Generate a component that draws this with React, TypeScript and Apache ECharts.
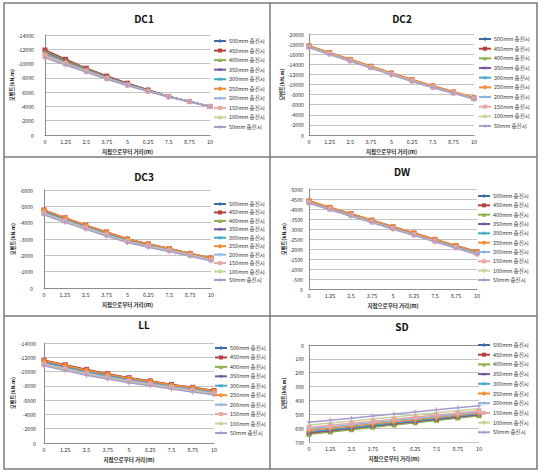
import React, { useEffect, useRef } from "react";
import * as echarts from "echarts";

const X_LABELS = ["0", "1.25", "2.5", "3.75", "5", "6.25", "7.5", "8.75", "10"];
const NAMES = [
  "500mm 충진시", "450mm 충진시", "400mm 충진시", "350mm 충진시", "300mm 충진시",
  "250mm 충진시", "200mm 충진시", "150mm 충진시", "100mm 충진시", "50mm 충진시",
];
const COLORS = [
  "#3A6CA8", "#B8403C", "#8DB04E", "#7459A0", "#45A8C6",
  "#F28E38", "#8DB3E2", "#E6A9A7", "#C3D69B", "#A89BCB",
];
const PLUS = "path://M4,0H6V4H10V6H6V10H4V6H0V4H4Z";
const STAR = "path://M4.4,0H5.6V10H4.4Z M0,1.6L0.9,0.6L10,8.4L9.1,9.4Z M9.1,0.6L10,1.6L0.9,9.4L0,8.4Z";
const DASH = "path://M0,4H10V6H0Z";
const SYMBOLS = ["diamond", "rect", "triangle", PLUS, STAR, "circle", PLUS, DASH, "none", PLUS];
const SYMBOL_ROT = [0, 0, 0, 45, 0, 0, 0, 0, 0, 0];

const TITLES = ["DC1", "DC2", "DC3", "DW", "LL", "SD"];
const Y_NAME = "모멘트(kN.m)";
const X_NAME = "지점으로부터 거리(m)";

const DC1 = [
  [-11800, -10500, -9300, -8200, -7200, -6300, -5400, -4700, -4000],
  [-11900, -10600, -9350, -8250, -7250, -6300, -5400, -4700, -4000],
  [-11700, -10450, -9250, -8150, -7150, -6250, -5400, -4700, -4000],
  [-11550, -10350, -9150, -8100, -7100, -6200, -5380, -4690, -4000],
  [-11450, -10250, -9100, -8050, -7100, -6200, -5380, -4690, -4000],
  [-11300, -10150, -9050, -8000, -7050, -6180, -5370, -4680, -4000],
  [-11200, -10050, -9000, -7950, -7000, -6150, -5350, -4680, -4000],
  [-11050, -9950, -8900, -7900, -6980, -6130, -5350, -4670, -4000],
  [-10900, -9850, -8850, -7850, -6950, -6120, -5340, -4670, -4000],
  [-10800, -9800, -8800, -7800, -6920, -6100, -5330, -4660, -4000],
];
const DC2 = [
  [-17600, -16250, -14900, -13550, -12200, -10900, -9650, -8450, -7300],
  [-17650, -16300, -14950, -13600, -12250, -10950, -9700, -8500, -7350],
  [-17550, -16200, -14850, -13500, -12150, -10850, -9600, -8420, -7280],
  [-17500, -16150, -14800, -13450, -12100, -10800, -9550, -8380, -7250],
  [-17550, -16200, -14850, -13500, -12150, -10850, -9620, -8450, -7300],
  [-17700, -16350, -15000, -13650, -12300, -11000, -9750, -8600, -7450],
  [-17450, -16100, -14750, -13400, -12050, -10750, -9500, -8350, -7200],
  [-17400, -16050, -14700, -13350, -12000, -10700, -9450, -8300, -7150],
  [-17350, -16000, -14650, -13300, -11950, -10650, -9420, -8270, -7120],
  [-17300, -15950, -14600, -13250, -11900, -10600, -9400, -8250, -7100],
];
const DC3 = [
  [-4750, -4280, -3830, -3410, -2990, -2690, -2410, -2110, -1830],
  [-4780, -4300, -3850, -3430, -3000, -2700, -2420, -2120, -1840],
  [-4720, -4250, -3800, -3380, -2960, -2660, -2380, -2090, -1810],
  [-4680, -4210, -3770, -3350, -2930, -2640, -2360, -2070, -1790],
  [-4640, -4180, -3740, -3320, -2900, -2610, -2340, -2050, -1770],
  [-4770, -4300, -3850, -3430, -3000, -2700, -2420, -2120, -1840],
  [-4600, -4140, -3700, -3280, -2870, -2580, -2310, -2020, -1740],
  [-4560, -4100, -3670, -3250, -2840, -2560, -2290, -2000, -1720],
  [-4520, -4060, -3630, -3220, -2810, -2530, -2260, -1980, -1690],
  [-4480, -4020, -3590, -3180, -2780, -2500, -2230, -1950, -1660],
];
const DW = [
  [-4390, -4070, -3750, -3430, -3100, -2790, -2470, -2160, -1850],
  [-4400, -4080, -3760, -3440, -3110, -2800, -2480, -2170, -1860],
  [-4370, -4050, -3730, -3410, -3080, -2770, -2450, -2140, -1830],
  [-4350, -4030, -3710, -3390, -3060, -2750, -2430, -2120, -1810],
  [-4340, -4020, -3700, -3380, -3050, -2740, -2420, -2110, -1800],
  [-4410, -4090, -3770, -3450, -3120, -2810, -2490, -2180, -1870],
  [-4320, -4000, -3680, -3360, -3030, -2720, -2400, -2080, -1770],
  [-4310, -3990, -3670, -3350, -3020, -2710, -2390, -2070, -1760],
  [-4290, -3970, -3650, -3330, -3000, -2690, -2370, -2050, -1740],
  [-4280, -3960, -3640, -3320, -2990, -2680, -2360, -2040, -1720],
];
const LL = [
  [-11550, -10900, -10250, -9650, -9100, -8650, -8150, -7750, -7300],
  [-11600, -10950, -10300, -9700, -9150, -8700, -8200, -7800, -7350],
  [-11450, -10800, -10150, -9560, -9020, -8570, -8080, -7680, -7230],
  [-11350, -10700, -10050, -9470, -8940, -8490, -8010, -7610, -7160],
  [-11250, -10600, -9950, -9380, -8860, -8410, -7940, -7540, -7090],
  [-11500, -10850, -10200, -9620, -9080, -8630, -8130, -7730, -7280],
  [-11100, -10450, -9800, -9250, -8740, -8290, -7830, -7430, -6990],
  [-11000, -10350, -9700, -9150, -8650, -8200, -7740, -7340, -6900],
  [-10900, -10250, -9600, -9050, -8550, -8100, -7650, -7250, -6820],
  [-10800, -10150, -9500, -8950, -8450, -8000, -7550, -7150, -6750],
];
const SD = [
  [640, 623, 607, 590, 573, 557, 540, 523, 505],
  [638, 621, 605, 588, 571, 555, 538, 521, 504],
  [645, 628, 611, 594, 578, 561, 544, 527, 510],
  [632, 615, 599, 583, 567, 551, 535, 519, 502],
  [625, 609, 593, 577, 561, 545, 529, 513, 497],
  [615, 600, 584, 569, 553, 538, 522, 507, 491],
  [605, 590, 575, 560, 544, 529, 514, 499, 483],
  [595, 580, 565, 550, 535, 520, 505, 490, 475],
  [578, 563, 548, 534, 519, 504, 489, 475, 460],
  [558, 543, 528, 513, 498, 483, 468, 453, 438],
];
const PANEL_DATA = [DC1, DC2, DC3, DW, LL, SD];
const Y_MIN = [-14000, -20000, -6000, -5000, -14000, 0];
const Y_MAX = [0, 0, 0, 0, 0, 700];
const Y_STEP = [2000, 2000, 1000, 500, 2000, 100];

// layout (pixels)
const LAYOUT = [
  { grid: { left: 45, top: 35, width: 165, height: 100 }, legend: { left: 213, top: 37, gap: 1.55 }, tx: 139, ty: 8, lm: 11, ng: 29 },
  { grid: { left: 309, top: 34, width: 165, height: 101 }, legend: { left: 478, top: 35, gap: 1.67 }, tx: 397, ty: 8, lm: 5, ng: 21 },
  { grid: { left: 44, top: 190, width: 167, height: 98 }, legend: { left: 213, top: 200, gap: 0.44 }, tx: 139, ty: 166, lm: 11, ng: 29 },
  { grid: { left: 309, top: 189, width: 168, height: 100 }, legend: { left: 477, top: 192, gap: 1.33 }, tx: 397, ty: 161, lm: 6, ng: 22 },
  { grid: { left: 44, top: 343, width: 170, height: 100 }, legend: { left: 214, top: 344, gap: 1.44 }, tx: 139, ty: 314, lm: 8, ng: 29 },
  { grid: { left: 309, top: 345, width: 170, height: 97 }, legend: { left: 477, top: 341, gap: 1.7 }, tx: 397, ty: 316, lm: 5, ng: 23 },
];

const FONT = "'Noto Sans CJK KR', 'Noto Sans', sans-serif";

export default function App() {
  const ref = useRef<HTMLDivElement>(null);
  useEffect(() => {
    if (!ref.current) return;
    const chart = echarts.init(ref.current, undefined, { renderer: "svg" });
    const grids: any[] = [];
    const xAxes: any[] = [];
    const yAxes: any[] = [];
    const series: any[] = [];
    const legends: any[] = [];
    const titles: any[] = [];
    LAYOUT.forEach((lay, i) => {
      grids.push({ ...lay.grid });
      xAxes.push({
        type: "category",
        gridIndex: i,
        data: X_LABELS,
        boundaryGap: false,
        axisLine: { show: true, lineStyle: { color: "#8c8c8c", width: 1 } },
        axisTick: { show: false },
        axisLabel: { fontSize: 5.5, color: "#333", margin: 4, fontFamily: FONT },
        splitLine: { show: false },
        name: X_NAME,
        nameLocation: "middle",
        nameGap: 14,
        nameTextStyle: { fontSize: 5.5, fontWeight: "bold", color: "#222", fontFamily: FONT },
      });
      yAxes.push({
        type: "value",
        gridIndex: i,
        inverse: true,
        min: Y_MIN[i],
        max: Y_MAX[i],
        interval: Y_STEP[i],
        axisLine: { show: true, lineStyle: { color: "#8c8c8c", width: 1 } },
        axisTick: { show: false },
        splitLine: { show: true, lineStyle: { color: "#c4c4c4", width: 1 } },
        axisLabel: { fontSize: 5.2, color: "#333", margin: lay.lm, fontFamily: FONT, formatter: (v: number) => String(v) },
        name: Y_NAME,
        nameLocation: "middle",
        nameGap: lay.ng,
        nameTextStyle: { fontSize: 5.2, fontWeight: "bold", color: "#222", fontFamily: FONT },
      });
      PANEL_DATA[i].forEach((row, k) => {
        series.push({
          type: "line",
          name: NAMES[k],
          xAxisIndex: i,
          yAxisIndex: i,
          data: row,
          symbol: SYMBOLS[k],
          symbolRotate: SYMBOL_ROT[k],
          symbolSize: 5,
          showAllSymbol: true,
          color: COLORS[k],
          lineStyle: { color: COLORS[k], width: 1.5 },
          itemStyle: { color: COLORS[k], borderWidth: 0 },
          emphasis: { disabled: true },
        });
      });
      legends.push({
        orient: "vertical",
        left: lay.legend.left,
        top: lay.legend.top,
        itemWidth: 12,
        itemHeight: 5,
        itemGap: lay.legend.gap,
        padding: 0,
        selectedMode: false,
        data: NAMES,
        itemStyle: { borderWidth: 0 },
        textStyle: { fontSize: 5.5, color: "#333", lineHeight: 8, fontFamily: FONT, padding: [0, 0, 0, -2] },
      });
      titles.push({
        text: TITLES[i],
        left: lay.tx,
        top: lay.ty,
        textAlign: "center",
        textStyle: { fontSize: 10, fontWeight: "bold", color: "#111", fontFamily: FONT },
      });
    });
    const frameColor = "#7a7a7a";
    chart.setOption({
      animation: false,
      backgroundColor: "#ffffff",
      title: titles,
      grid: grids,
      xAxis: xAxes,
      yAxis: yAxes,
      legend: legends,
      series,
      graphic: [
        { type: "rect", shape: { x: 4, y: 3, width: 533, height: 466 }, style: { fill: "none", stroke: frameColor, lineWidth: 1.5 }, silent: true },
        { type: "line", shape: { x1: 270, y1: 3, x2: 270, y2: 469 }, style: { stroke: frameColor, lineWidth: 1.5 }, silent: true },
        { type: "line", shape: { x1: 4, y1: 157, x2: 537, y2: 157 }, style: { stroke: frameColor, lineWidth: 1.5 }, silent: true },
        { type: "line", shape: { x1: 4, y1: 316, x2: 537, y2: 316 }, style: { stroke: frameColor, lineWidth: 1.5 }, silent: true },
      ],
    });
    return () => chart.dispose();
  }, []);
  return (
    <div
      ref={ref}
      style={{ position: "absolute", left: 0, top: 0, width: 544, height: 474, background: "#fff" }}
    />
  );
}
